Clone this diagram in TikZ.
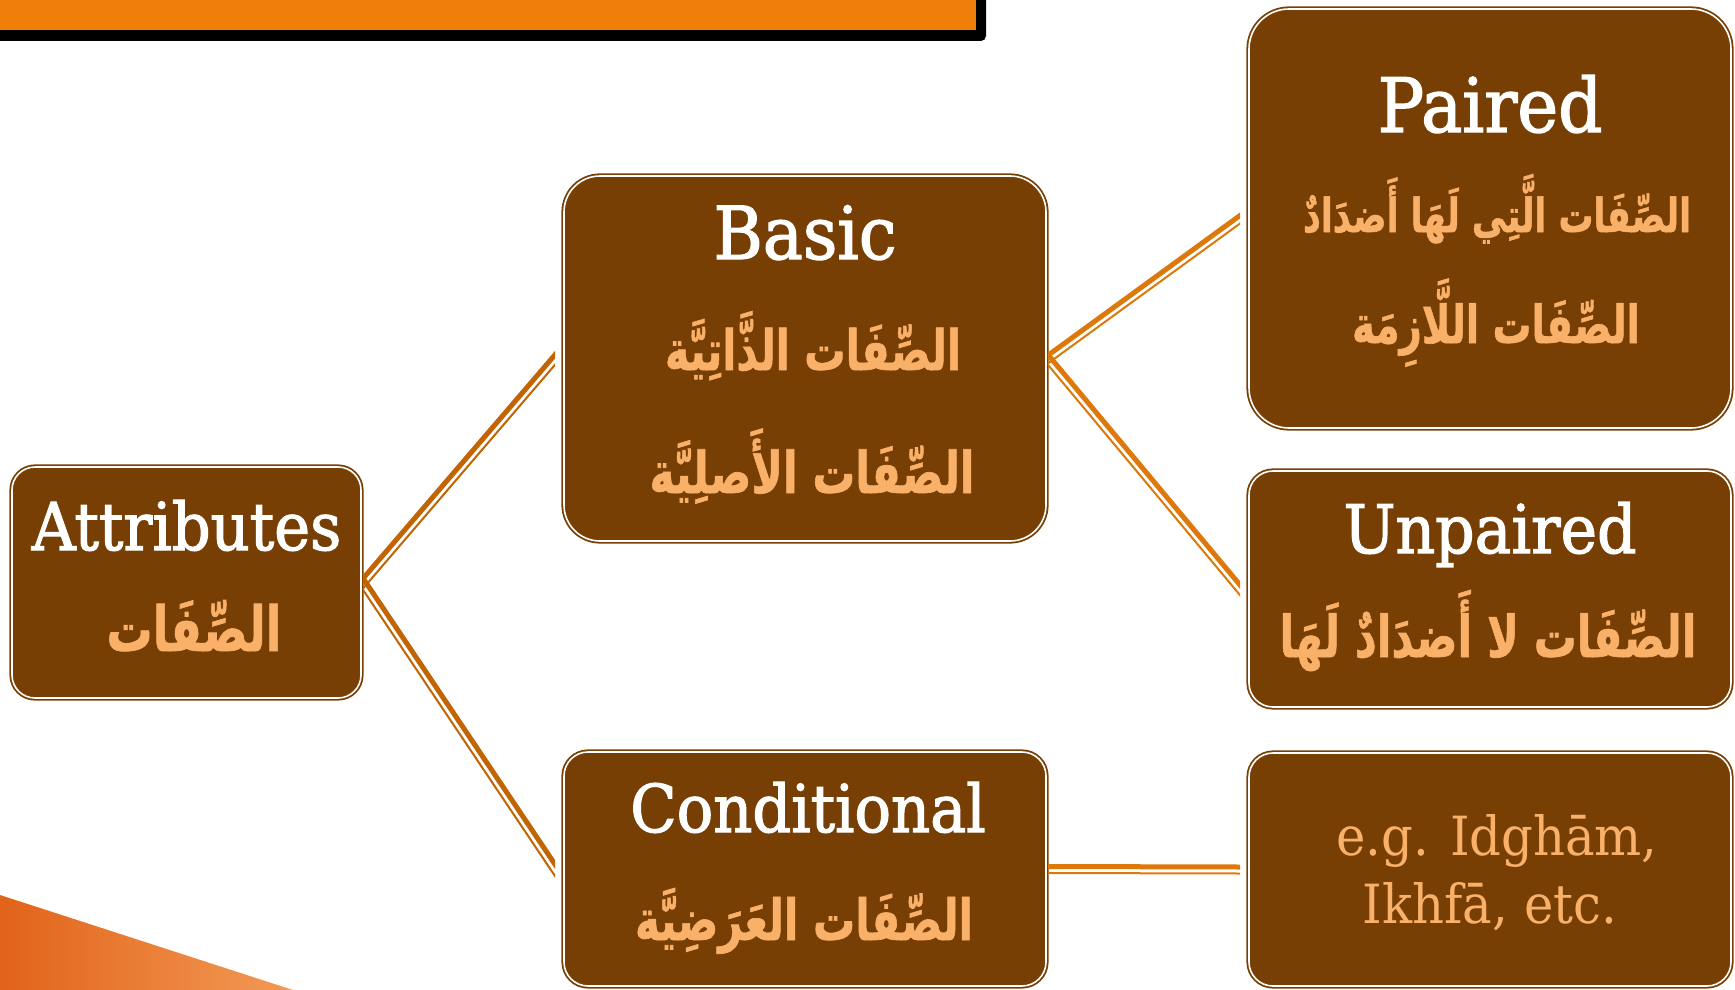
\documentclass[tikz,border=0pt]{standalone}
\usepackage{fontspec}
\usepackage{graphicx}
\setmainfont{DejaVu Serif}[FakeStretch=0.92]
\newfontfamily\titlefont{DejaVu Serif}[FakeStretch=0.92, FakeBold=1.8]
\newfontfamily\arabicfont[Script=Arabic, BoldFeatures={FakeBold=1.2}]{DejaVu Sans}
\TeXXeTstate=1
\usetikzlibrary{calc}

\definecolor{boxbrown}{HTML}{783F04}
\definecolor{arabtext}{HTML}{F9B068}
\definecolor{linedark}{HTML}{C26402}
\definecolor{linelight}{HTML}{DD780A}
\definecolor{barorange}{HTML}{F07F0A}
\definecolor{wedgedark}{HTML}{E2631A}
\definecolor{wedgelight}{HTML}{F29A55}

\tikzset{
  box/.style={draw=boxbrown, line width=1.8pt, double=white,
    double distance=1.6pt, fill=boxbrown, inner sep=0pt, rectangle},
  title/.style={anchor=base, text=white, inner sep=0pt},
  arab/.style={anchor=base, text=arabtext, inner sep=0pt,
    font=\arabicfont\bfseries\fontsize{44}{48}\selectfont},
  note/.style={anchor=base, text=arabtext, inner sep=0pt,
    font=\fontsize{54}{58}\selectfont},
}

% one Arabic line, set to a given width and drawn a little taller
\newcommand\arabline[2]{\resizebox{#1pt}{!}{\scalebox{1}[1.35]{#2}}}

% two parallel strokes (thick on the left of the direction of travel,
% thin on the right), cut vertically at both ends
\newcommand\dblconn[3]{%
  \begin{scope}
    \clip (#2 |- pagetop) rectangle (#3 |- pagebot);
    \draw[#1, line width=5pt, shorten <=-8pt, shorten >=-8pt]
      ($(#2)!2.5pt!90:(#3)$) -- ($(#3)!2.5pt!-90:(#2)$);
    \draw[#1, line width=2pt, shorten <=-8pt, shorten >=-8pt]
      ($(#2)!4pt!-90:(#3)$) -- ($(#3)!4pt!90:(#2)$);
  \end{scope}}

\begin{document}
\begin{tikzpicture}[x=1pt, y=-1pt]
  \useasboundingbox (0,0) rectangle (1735,990);
  \clip (0,0) rectangle (1735,990);
  \coordinate (pagetop) at (0,0);
  \coordinate (pagebot) at (1735,990);

  % title bar with its shadow
  \fill[black, rounded corners=5pt] (-10,-10) rectangle (986,41);
  \fill[barorange] (-10,-10) rectangle (976,30);

  % corner wedge
  \shade[left color=wedgedark, right color=wedgelight]
    (0,895) -- (293,990) -- (0,990) -- cycle;

  % boxes
  \node[box, rounded corners=23pt, minimum width=349pt, minimum height=231pt] (attr) at (186.5,582.5) {};
  \node[box, rounded corners=36pt, minimum width=482pt, minimum height=365pt] (basic) at (805,358.5) {};
  \node[box, rounded corners=40pt, minimum width=482pt, minimum height=419pt] (paired) at (1490,218.5) {};
  \node[box, rounded corners=24pt, minimum width=482pt, minimum height=236pt] (unpaired) at (1490,589) {};
  \node[box, rounded corners=24pt, minimum width=482pt, minimum height=234pt] (cond) at (805,869) {};
  \node[box, rounded corners=24pt, minimum width=482pt, minimum height=233pt] (eg) at (1490,869.5) {};

  % texts
  \node[title, font=\titlefont\fontsize{66}{70}\selectfont] (attr-t) at (186.5,550) {Attributes};
  \node[arab] (attr-a) at (194,651) {\arabline{175}{\beginR الصِّفَات\endR}};

  \node[title, font=\titlefont\fontsize{73}{78}\selectfont] (basic-t) at (805,259) {Basic};
  \node[arab] (basic-a1) at (813,370) {\arabline{296}{\beginR الصِّفَات الذَّاتِيَّة\endR}};
  \node[arab] (basic-a2) at (812,493) {\arabline{325}{\beginR الصِّفَات الأَصلِيَّة\endR}};

  \node[title, font=\titlefont\fontsize{75}{78}\selectfont] (paired-t) at (1490,132) {Paired};
  \node[arab] (paired-a1) at (1497,232) {\arabline{388}{\beginR الصِّفَات الَّتِي لَهَا أَضدَادٌ\endR}};
  \node[arab] (paired-a2) at (1496,343) {\arabline{288}{\beginR الصِّفَات اللَّازِمَة\endR}};

  \node[title, font=\titlefont\fontsize{67}{70}\selectfont] (unpaired-t) at (1490,553) {Unpaired};
  \node[arab] (unpaired-a) at (1488,657) {\arabline{417}{\beginR الصِّفَات لا أَضدَادٌ لَهَا\endR}};

  \node[title, font=\titlefont\fontsize{66}{70}\selectfont] (cond-t) at (808,832) {Conditional};
  \node[arab] (cond-a) at (804,940) {\arabline{338}{\beginR الصِّفَات العَرَضِيَّة\endR}};

  \node[note] (eg-1) at (1497,855) {e.g. Idghām,};
  \node[note] (eg-2) at (1490,923) {Ikhfā, etc.};

  % connector end points
  \coordinate (attr-out) at ($(attr.east)+(1,0)$);
  \coordinate (basic-in) at ($(basic.west)+(-8,0)$);
  \coordinate (cond-in) at ($(cond.west)+(-8,0)$);
  \coordinate (basic-out) at ($(basic.east)+(1,0)$);
  \coordinate (cond-out) at ($(cond.east)+(1,0)$);
  \coordinate (paired-in) at ($(paired.west)+(-8,0)$);
  \coordinate (unpaired-in) at ($(unpaired.west)+(-8,0)$);
  \coordinate (eg-in) at ($(eg.west)+(-8,0)$);

  % connectors
  \dblconn{linedark}{attr-out}{basic-in}
  \dblconn{linedark}{attr-out}{cond-in}
  \dblconn{linelight}{basic-out}{paired-in}
  \dblconn{linelight}{basic-out}{unpaired-in}
  \dblconn{linelight}{cond-out}{eg-in}
\end{tikzpicture}
\end{document}
